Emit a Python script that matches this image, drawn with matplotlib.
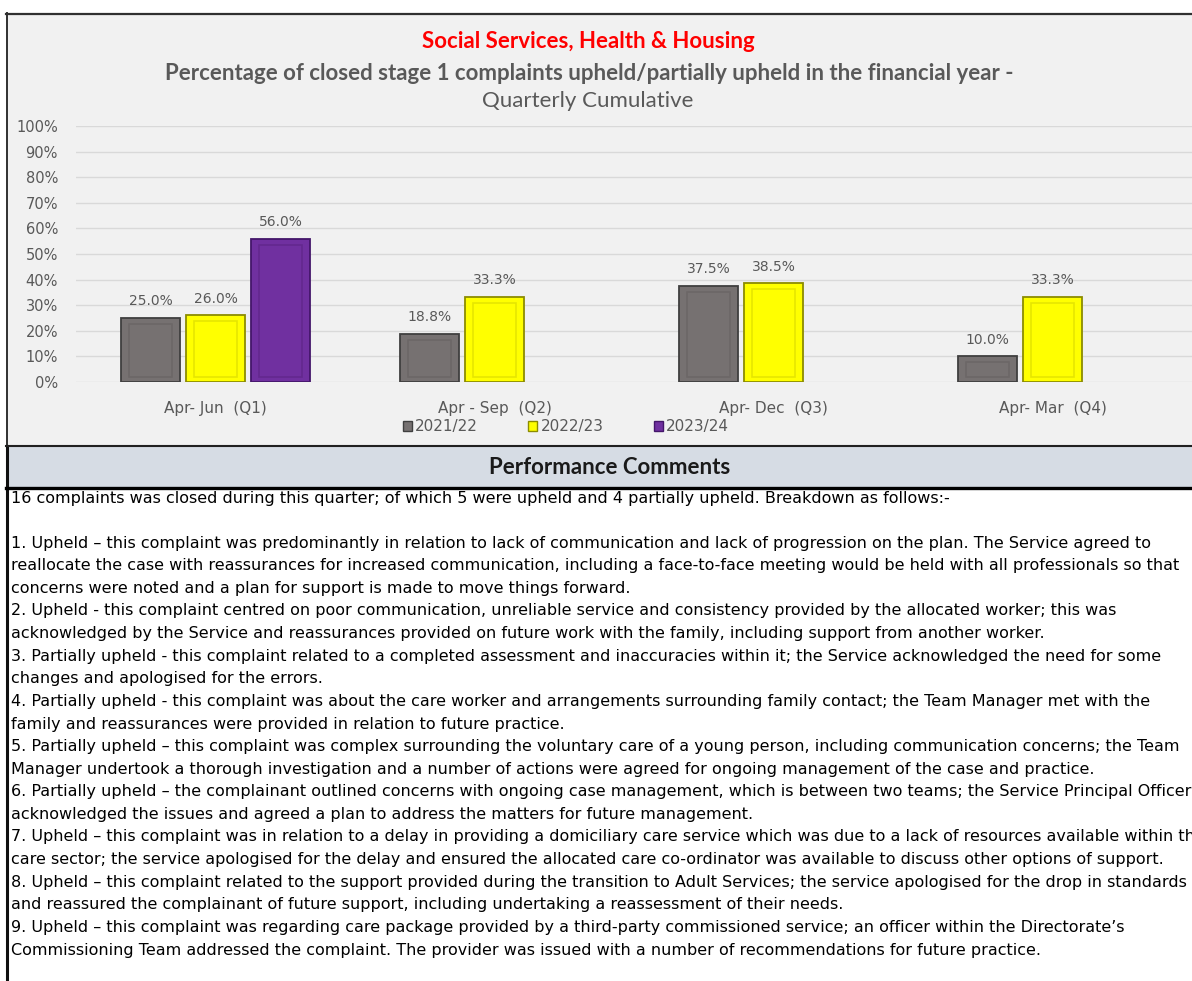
import numpy as np
import matplotlib.pyplot as plt
from matplotlib.patches import Rectangle, Patch

# data
quarters = ['Apr- Jun  (Q1)', 'Apr - Sep  (Q2)', 'Apr- Dec  (Q3)', 'Apr- Mar  (Q4)']
years = ['2021/22', '2022/23', '2023/24']
pct_2122 = [25.0, 18.8, 37.5, 10.0]
pct_2223 = [26.0, 33.3, 38.5, 33.3]
pct_2324 = [56.0, np.nan, np.nan, np.nan]
yticks = [0, 10, 20, 30, 40, 50, 60, 70, 80, 90, 100]

face = ['#767171', '#ffff00', '#7030a0']
edge = ['#3f3f3f', '#8c8c00', '#44166a']
inner = ['#6c6767', '#e6e600', '#63288f']

comments = [
    "16 complaints was closed during this quarter; of which 5 were upheld and 4 partially upheld. Breakdown as follows:-",
    "",
    "1. Upheld – this complaint was predominantly in relation to lack of communication and lack of progression on the plan. The Service agreed to",
    "reallocate the case with reassurances for increased communication, including a face-to-face meeting would be held with all professionals so that",
    "concerns were noted and a plan for support is made to move things forward.",
    "2. Upheld - this complaint centred on poor communication, unreliable service and consistency provided by the allocated worker; this was",
    "acknowledged by the Service and reassurances provided on future work with the family, including support from another worker.",
    "3. Partially upheld - this complaint related to a completed assessment and inaccuracies within it; the Service acknowledged the need for some",
    "changes and apologised for the errors.",
    "4. Partially upheld - this complaint was about the care worker and arrangements surrounding family contact; the Team Manager met with the",
    "family and reassurances were provided in relation to future practice.",
    "5. Partially upheld – this complaint was complex surrounding the voluntary care of a young person, including communication concerns; the Team",
    "Manager undertook a thorough investigation and a number of actions were agreed for ongoing management of the case and practice.",
    "6. Partially upheld – the complainant outlined concerns with ongoing case management, which is between two teams; the Service Principal Officer",
    "acknowledged the issues and agreed a plan to address the matters for future management.",
    "7. Upheld – this complaint was in relation to a delay in providing a domiciliary care service which was due to a lack of resources available within the",
    "care sector; the service apologised for the delay and ensured the allocated care co-ordinator was available to discuss other options of support.",
    "8. Upheld – this complaint related to the support provided during the transition to Adult Services; the service apologised for the drop in standards",
    "and reassured the complainant of future support, including undertaking a reassessment of their needs.",
    "9. Upheld – this complaint was regarding care package provided by a third-party commissioned service; an officer within the Directorate’s",
    "Commissioning Team addressed the complaint. The provider was issued with a number of recommendations for future practice.",
]

W, H = 1192, 981
fig = plt.figure(figsize=(W / 100, H / 100), dpi=100)
fig.patch.set_facecolor('white')

# background layer in pixel coordinates (frame, header band, text)
bg = fig.add_axes([0, 0, 1, 1])
bg.set_xlim(0, W)
bg.set_ylim(H, 0)
bg.axis('off')
bg.add_patch(Rectangle((6, 13), W, 433, facecolor='#f1f1f1', edgecolor='none'))
bg.add_patch(Rectangle((6, 446), W, 41, facecolor='#d6dce4', edgecolor='none'))
bg.plot([6, W], [13.5, 13.5], color='#303030', lw=1.6)
bg.plot([6.5, 6.5], [13, 446], color='#303030', lw=1.4)
bg.plot([7, 7], [446, H], color='#101010', lw=2.2)
bg.plot([6, W], [446, 446], color='#202020', lw=1.5)
bg.plot([6, W], [487.5, 487.5], color='black', lw=2.4)

bg.text(588, 42, 'Social Services, Health & Housing', color='#ff0000',
        fontsize=16, fontweight='bold', family='Lato', ha='center', va='center')
bg.text(589, 73, 'Percentage of closed stage 1 complaints upheld/partially upheld in the financial year -',
        color='#595959', fontsize=16, fontweight='bold', family='Lato', ha='center', va='center')
bg.text(588, 101, 'Quarterly Cumulative', color='#595959', fontsize=16,
        family='Lato', ha='center', va='center')
bg.text(610, 467, 'Performance Comments', color='#1a1a1a', fontsize=16,
        fontweight='bold', family='Lato', ha='center', va='center')

y0, dy = 498, 22.6
for i, line in enumerate(comments):
    bg.text(11, y0 + i * dy, line, fontsize=11.5, family='DejaVu Sans',
            color='black', ha='left', va='center')

# chart axes
ax = fig.add_axes([76 / W, 1 - 382 / H, (W - 76) / W, (382 - 126) / H])
ax.set_facecolor('none')
ax.set_xlim(-0.5, 3.5)
ax.set_ylim(0, 100)
for s in ax.spines.values():
    s.set_visible(False)
ax.set_yticks(yticks)
ax.set_yticklabels([f'{t}%' for t in yticks])
ax.yaxis.grid(True, color='#d9d9d9', lw=1)
ax.set_axisbelow(True)
ax.tick_params(axis='y', length=0, pad=13, labelsize=10.5, labelcolor='#595959')
ax.set_xticks(range(len(quarters)))
ax.set_xticklabels(quarters)
ax.tick_params(axis='x', length=0, pad=14, labelsize=11, labelcolor='#595959')

xs = np.arange(len(quarters))
width, step = 0.215, 0.233
for i, vals in enumerate([pct_2122, pct_2223, pct_2324]):
    v = np.array(vals, dtype=float)
    x = xs + (i - 1) * step
    ax.bar(x, v, width=width, color=face[i], edgecolor=edge[i], lw=1.3, zorder=3)
    ax.bar(x, v - 4.3, bottom=2.0, width=width * 0.72, fill=False,
           edgecolor=inner[i], lw=1.2, zorder=4)
    for xi, vi in zip(x, v):
        if not np.isnan(vi):
            ax.annotate(f'{vi:.1f}%', (xi, vi), xytext=(0, 12), textcoords='offset points',
                        ha='center', va='center', fontsize=10, color='#595959')

handles = [Patch(facecolor=face[i], edgecolor=edge[i], lw=1) for i in range(3)]
fig.legend(handles, years, loc='center', bbox_to_anchor=(566 / W, 1 - 427 / H), ncol=3,
           frameon=False, handlelength=0.6, handleheight=0.6, handletextpad=0.2,
           columnspacing=3.3, fontsize=11, labelcolor='#595959')

plt.savefig('out.png', dpi=100)
